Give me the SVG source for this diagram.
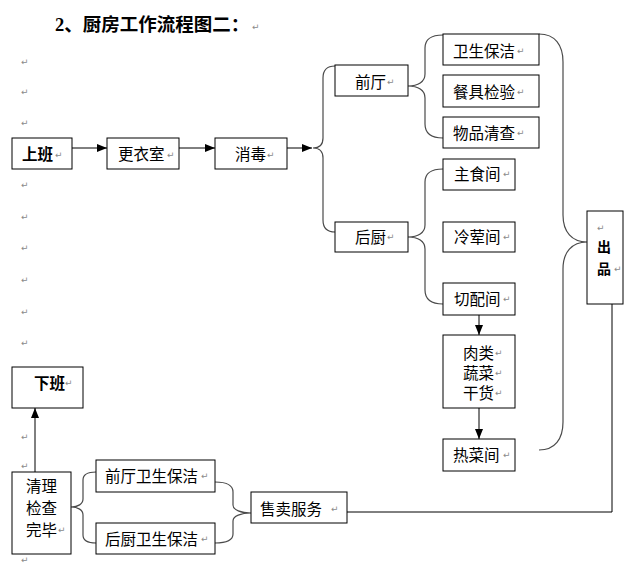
<svg xmlns="http://www.w3.org/2000/svg" width="637" height="567" viewBox="0 0 637 567">
<style>
.box{fill:#fff;stroke:#000;stroke-width:1}
.t{font-family:"Noto Sans CJK SC","Liberation Sans",sans-serif;font-size:15.5px;fill:#000}
.b{font-weight:bold}
.pm{font-family:"DejaVu Sans",sans-serif;font-size:9px;fill:#8a8a8a}
.br{fill:none;stroke:#4a4a4a;stroke-width:1.2}
.ln{fill:none;stroke:#000;stroke-width:1}
.ttl{font-family:"Liberation Serif","Noto Sans CJK SC",serif;font-size:18.5px;font-weight:bold;fill:#000}
.cp{font-size:14px}
</style>
<defs>
<marker id="ah" markerWidth="10" markerHeight="8" refX="10" refY="4" orient="auto" markerUnits="userSpaceOnUse"><path d="M0,0 L10,4 L0,8 z" fill="#000"/></marker>
</defs>
<rect width="637" height="567" fill="#fff"/>
<g id="title">
<text class="ttl" x="55" y="31">2、厨房工作流程图二：</text>
<text class="pm" x="252" y="30">↵</text>
</g>
<g id="marks">
<text class="pm" x="21" y="65">↵</text>
<text class="pm" x="21" y="95">↵</text>
<text class="pm" x="21" y="126">↵</text>
<text class="pm" x="21" y="188">↵</text>
<text class="pm" x="21" y="220">↵</text>
<text class="pm" x="21" y="251">↵</text>
<text class="pm" x="21" y="283">↵</text>
<text class="pm" x="21" y="315">↵</text>
<text class="pm" x="21" y="346">↵</text>
<text class="pm" x="21" y="440">↵</text>
<text class="pm" x="21" y="469">↵</text>
<text class="pm" x="21" y="563">↵</text>
</g>
<g id="connectors">
<path class="ln" d="M72,148 H107" marker-end="url(#ah)"/>
<path class="ln" d="M179,148 H215" marker-end="url(#ah)"/>
<path class="ln" d="M287,148 H312" marker-end="url(#ah)"/>
<path class="ln" d="M479,315 V335" marker-end="url(#ah)"/>
<path class="ln" d="M479,408 V439" marker-end="url(#ah)"/>
<path class="ln" d="M35,472 V408" marker-end="url(#ah)"/>
<path class="ln" d="M347,512 H612 V304"/>
<path class="br" d="M335,66 C327,66 323,70 323,78 L323,138 C323,145 319,148 313,148 C319,148 323,151 323,158 L323,220 C323,228 327,232 335,232"/>
<path class="br" d="M443,35 C431,35 425,40 425,48 L425,74 C425,82 418,86 408,86 C418,86 425,90 425,98 L425,124 C425,133 431,138 443,138"/>
<path class="br" d="M443,169 C431,169 425,174 425,182 L425,225 C425,233 418,237 408,237 C418,237 425,241 425,249 L425,290 C425,299 431,304 443,304"/>
<path class="br" d="M539,34 C555,34 563,45 563,62 L563,215 C563,232 572,242 587,242 C572,242 563,252 563,269 L563,422 C563,439 555,450 539,450"/>
<path class="br" d="M96,472 C88,472 83,474 83,480 L83,499 C83,504 78,507 71,507 C78,507 83,510 83,515 L83,535 C83,541 88,543 96,543"/>
<path class="br" d="M215,482 C227,482 233,485 233,492 L233,505 C233,510 241,513 251,513 C241,513 233,516 233,521 L233,534 C233,540 227,543 215,543"/>
</g>
<g id="n-shangban"><rect class="box" x="12" y="138" width="60" height="31"/><text class="t b" x="22" y="160">上班</text><text class="pm" x="55" y="158">↵</text></g>
<g id="n-gengyishi"><rect class="box" x="107" y="138" width="72" height="31"/><text class="t" x="118" y="160">更衣室</text><text class="pm" x="167" y="158">↵</text></g>
<g id="n-xiaodu"><rect class="box" x="215" y="138" width="72" height="31"/><text class="t" x="235" y="160">消毒</text><text class="pm" x="267" y="158">↵</text></g>
<g id="n-qianting"><rect class="box" x="335" y="65" width="73" height="31"/><text class="t" x="355" y="87.5">前厅</text><text class="pm" x="387" y="85">↵</text></g>
<g id="n-houchu"><rect class="box" x="335" y="222" width="73" height="30"/><text class="t" x="355" y="242.5">后厨</text><text class="pm" x="387" y="240">↵</text></g>
<g id="n-weisheng"><rect class="box" x="443" y="34" width="96" height="31"/><text class="t" x="453" y="56.5">卫生保洁</text><text class="pm" x="517" y="54">↵</text></g>
<g id="n-canju"><rect class="box" x="443" y="75" width="96" height="32"/><text class="t" x="453" y="97.5">餐具检验</text><text class="pm" x="517" y="95">↵</text></g>
<g id="n-wupin"><rect class="box" x="443" y="117" width="96" height="31"/><text class="t" x="453" y="138.5">物品清查</text><text class="pm" x="517" y="136">↵</text></g>
<g id="n-zhushi"><rect class="box" x="443" y="159" width="72" height="31"/><text class="t" x="454" y="179.5">主食间</text><text class="pm" x="503" y="177">↵</text></g>
<g id="n-lenghun"><rect class="box" x="443" y="222" width="72" height="30"/><text class="t" x="454" y="242.5">冷荤间</text><text class="pm" x="503" y="240">↵</text></g>
<g id="n-qiepei"><rect class="box" x="443" y="283" width="72" height="32"/><text class="t" x="454" y="304.5">切配间</text><text class="pm" x="503" y="302">↵</text></g>
<g id="n-roulei"><rect class="box" x="443" y="335" width="72" height="73"/><text class="t" x="463" y="358.5">肉类</text><text class="pm" x="495" y="356">↵</text><text class="t" x="463" y="378.5">蔬菜</text><text class="pm" x="495" y="376">↵</text><text class="t" x="463" y="398.5">干货</text><text class="pm" x="495" y="396">↵</text></g>
<g id="n-recai"><rect class="box" x="443" y="439" width="72" height="32"/><text class="t" x="453" y="460.5">热菜间</text><text class="pm" x="503" y="458">↵</text></g>
<g id="n-chupin"><rect class="box" x="587" y="211" width="36" height="93"/><text class="pm" x="597" y="231">↵</text><text class="t b cp" x="604" y="252" text-anchor="middle">出</text><text class="t b cp" x="604" y="274" text-anchor="middle">品</text><text class="pm" x="614" y="272">↵</text></g>
<g id="n-xiaban"><rect class="box" x="12" y="367" width="71" height="41"/><text class="t b" x="34" y="388.5">下班</text><text class="pm" x="65" y="386">↵</text></g>
<g id="n-qingli"><rect class="box" x="12" y="472" width="59" height="82"/><text class="t" x="26" y="491.5">清理</text><text class="t" x="26" y="513.5">检查</text><text class="t" x="26" y="535.5">完毕</text><text class="pm" x="58" y="533">↵</text></g>
<g id="n-qtws"><rect class="box" x="96" y="460" width="119" height="32"/><text class="t" x="105" y="481.5">前厅卫生保洁</text><text class="pm" x="201" y="479">↵</text></g>
<g id="n-hcws"><rect class="box" x="96" y="523" width="119" height="31"/><text class="t" x="105" y="544.5">后厨卫生保洁</text><text class="pm" x="201" y="542">↵</text></g>
<g id="n-shoumai"><rect class="box" x="251" y="492" width="96" height="31"/><text class="t" x="260" y="514.5">售卖服务</text><text class="pm" x="331" y="512">↵</text></g>
</svg>
